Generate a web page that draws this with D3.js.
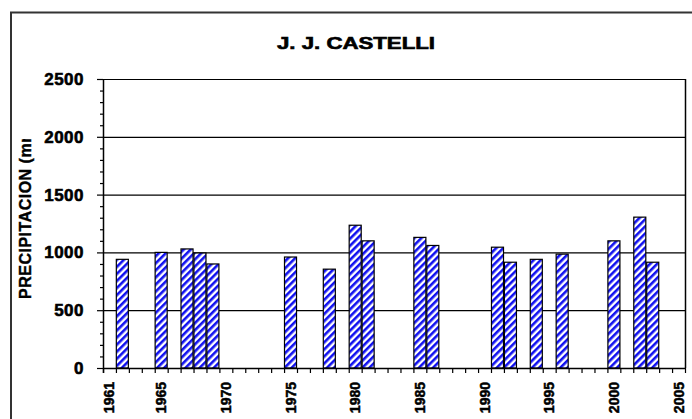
<!DOCTYPE html>
<html>
<head>
<meta charset="utf-8">
<script src="https://cdn.jsdelivr.net/npm/d3@7"></script>
<style>
  body { margin: 0; background: #fff; }
  text { font-family: "Liberation Sans", Arial, sans-serif; font-weight: bold; fill: #000; }
</style>
</head>
<body>
<svg width="692" height="419"></svg>
<script>
// years shown on the category axis
var years = d3.range(1961, 2006);
var tickYears = [1961, 1965, 1970, 1975, 1980, 1985, 1990, 1995, 2000, 2005];

// annual precipitation (mm), only years with data
var obsYears = [1962, 1965, 1967, 1968, 1969, 1975, 1978, 1980, 1981, 1985, 1986,
                1991, 1992, 1994, 1996, 2000, 2002, 2003];
var precip = [940, 1000, 1030, 995, 900, 960, 855, 1235, 1100, 1130, 1060,
              1045, 915, 940, 985, 1100, 1305, 915];

var yTicks = [0, 500, 1000, 1500, 2000, 2500];

var svg = d3.select("svg");
var pLeft = 103, pRight = 685, pTop = 79, pBottom = 368;

var x = d3.scaleBand().domain(years).range([pLeft, pRight]).paddingInner(0.07).paddingOuter(0.03);
var step = (pRight - pLeft) / years.length;
var y = d3.scaleLinear().domain([0, 2500]).range([pBottom, pTop]);

// hatch pattern for bars
var defs = svg.append("defs");
var pat = defs.append("pattern")
    .attr("id", "hatch")
    .attr("patternUnits", "userSpaceOnUse")
    .attr("width", 5).attr("height", 5)
    .attr("patternTransform", "rotate(45)");
pat.append("rect").attr("width", 5).attr("height", 5).attr("fill", "#fff");
pat.append("rect").attr("width", 2.6).attr("height", 5).attr("fill", "#1010f0");

defs.append("clipPath").attr("id", "ylabclip")
  .append("rect").attr("x", 0).attr("y", 139).attr("width", 60).attr("height", 280);

// outer frame
svg.append("path")
    .attr("d", "M11,419 V12.5 H692")
    .attr("fill", "none").attr("stroke", "#333").attr("stroke-width", 2);

// title
svg.append("text")
    .attr("x", 356).attr("y", 49)
    .attr("text-anchor", "middle")
    .attr("font-size", 16)
    .attr("textLength", 158).attr("lengthAdjust", "spacingAndGlyphs")
    .attr("stroke", "#000").attr("stroke-width", 0.6)
    .text("J. J. CASTELLI");

// gridlines
svg.append("g").selectAll("line")
  .data(yTicks.slice(1))
  .join("line")
    .attr("x1", pLeft).attr("x2", pRight)
    .attr("y1", d => y(d) + 0.5).attr("y2", d => y(d) + 0.5)
    .attr("stroke", "#000").attr("stroke-width", 1.2);

// right border of plot
svg.append("line")
    .attr("x1", pRight + 0.5).attr("x2", pRight + 0.5)
    .attr("y1", pTop).attr("y2", pBottom)
    .attr("stroke", "#000").attr("stroke-width", 1.5);

// bars
svg.append("g").selectAll("rect")
  .data(obsYears)
  .join("rect")
    .attr("x", d => x(d))
    .attr("width", x.bandwidth())
    .attr("y", (d, i) => y(precip[i]))
    .attr("height", (d, i) => pBottom - y(precip[i]))
    .attr("fill", "url(#hatch)")
    .attr("stroke", "#000").attr("stroke-width", 1.2);

// y axis with minor ticks
var yAxis = svg.append("g");
yAxis.append("line")
    .attr("x1", pLeft + 0.5).attr("x2", pLeft + 0.5)
    .attr("y1", pTop).attr("y2", pBottom + 5)
    .attr("stroke", "#000").attr("stroke-width", 1.5);
yAxis.selectAll("line.minor")
  .data(d3.range(0, 2501, 100))
  .join("line")
    .attr("class", "minor")
    .attr("x1", d => d % 500 == 0 ? pLeft - 6 : pLeft - 3).attr("x2", pLeft)
    .attr("y1", d => y(d) + 0.5).attr("y2", d => y(d) + 0.5)
    .attr("stroke", "#000").attr("stroke-width", 1.2);
yAxis.selectAll("text")
  .data(yTicks)
  .join("text")
    .attr("x", 84).attr("y", d => y(d) + 6)
    .attr("text-anchor", "end")
    .attr("font-size", 17)
    .attr("letter-spacing", 0.5)
    .attr("stroke", "#000").attr("stroke-width", 0.6)
    .text(d => d);

// x axis
var xAxis = svg.append("g");
xAxis.append("line")
    .attr("x1", pLeft).attr("x2", pRight + 1)
    .attr("y1", pBottom + 0.5).attr("y2", pBottom + 0.5)
    .attr("stroke", "#000").attr("stroke-width", 1.5);
xAxis.selectAll("line.tick")
  .data(d3.range(years.length + 1))
  .join("line")
    .attr("class", "tick")
    .attr("x1", i => pLeft + i * step + 0.5).attr("x2", i => pLeft + i * step + 0.5)
    .attr("y1", pBottom).attr("y2", pBottom + 5)
    .attr("stroke", "#000").attr("stroke-width", 1.2);
xAxis.selectAll("text")
  .data(tickYears)
  .join("text")
    .attr("transform", d => "translate(" + (x(d) + x.bandwidth() / 2 + 5) + ",382) rotate(-90)")
    .attr("text-anchor", "end")
    .attr("font-size", 14)
    .attr("stroke", "#000").attr("stroke-width", 0.5)
    .text(d => d);

// y axis title (cut off at the top like the original)
svg.append("g").attr("clip-path", "url(#ylabclip)")
  .append("text")
    .attr("transform", "translate(31,299) rotate(-90)")
    .attr("font-size", 16)
    .attr("letter-spacing", 0.5)
    .attr("stroke", "#000").attr("stroke-width", 0.4)
    .text("PRECIPITACION (mm)");
</script>
</body>
</html>
